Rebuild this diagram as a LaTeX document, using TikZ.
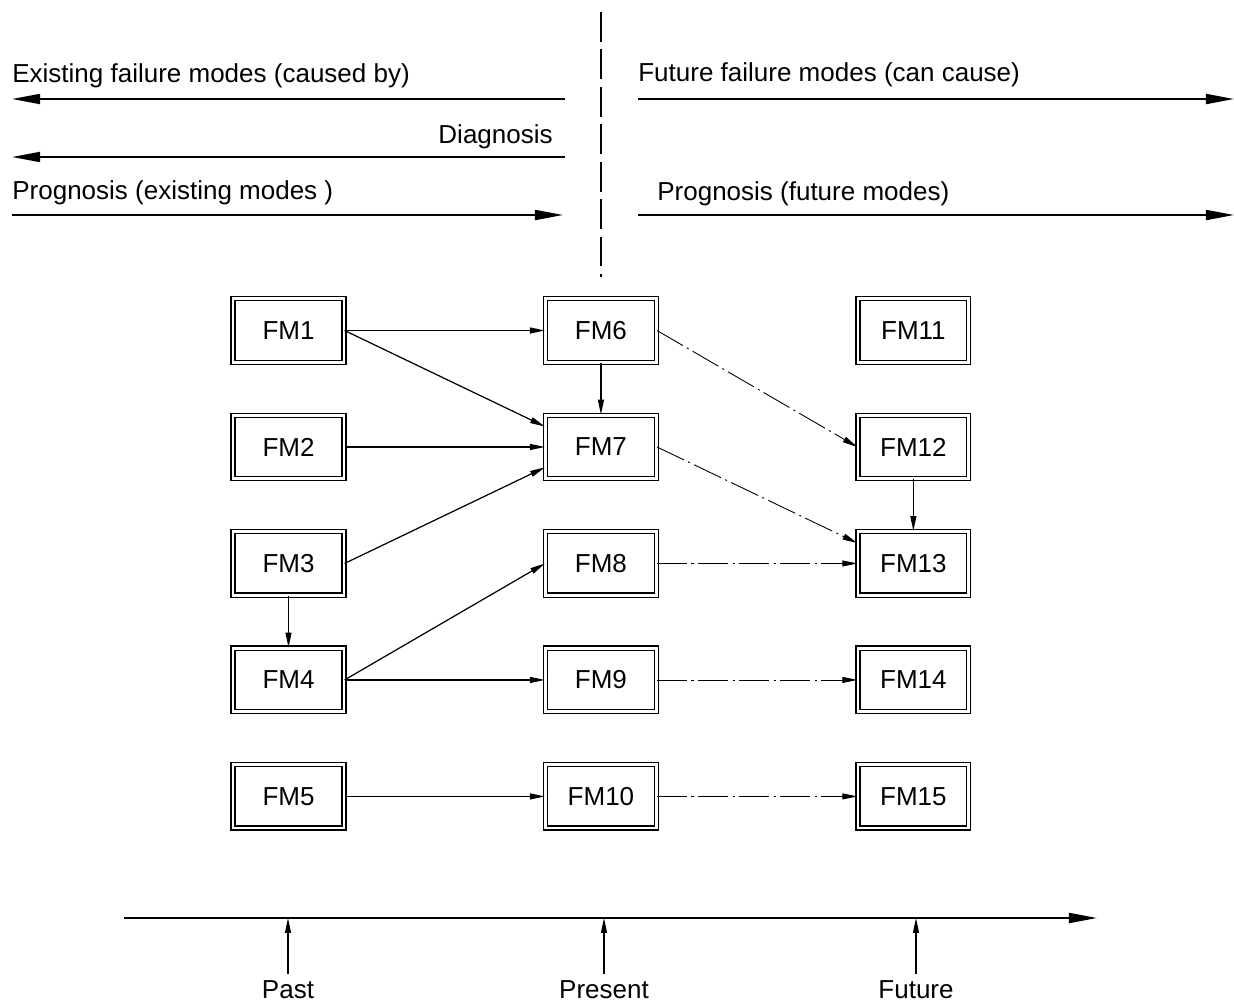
\documentclass[tikz,border=0pt]{standalone}
\usepackage{fontspec}
\setmainfont{Liberation Sans}
\usetikzlibrary{positioning,arrows.meta}

\begin{document}
\begin{tikzpicture}
    [ x=0.02cm, y=-0.02cm
    , every node/.style={font=\fontsize{14.8}{17}\selectfont}
    , on grid
    , node distance=2.33cm and 6.25cm
    , heading/.style={inner sep=0pt}
    , fm/.style={draw, double, line width=0.8pt, double distance=1.5pt,
        minimum width=2.215cm, minimum height=1.27cm, inner sep=0pt}
    , cause/.style={-{Triangle[length=8.5pt,width=3.4pt]}, line width=0.7pt}
    , future/.style={cause, line width=0.5pt,
        dash pattern=on 17pt off 2.6pt on 1.2pt off 2.6pt}
    , span/.style={-{Triangle[length=16pt,width=5.7pt]}, line width=1.1pt}
    , now/.style={line width=1.1pt, dash pattern=on 17pt off 4.3pt}
    , tick/.style={-{Triangle[length=8.5pt,width=3.4pt]}, line width=0.7pt}
    ]
  \useasboundingbox (0,0) rectangle (1234,1001);

  \node[heading, anchor=base west] (existing) at (12,82) {Existing failure modes (caused by)};
  \node[heading, anchor=base east] (diagnosis) at (553,143) {Diagnosis};
  \node[heading, anchor=base west] (progpast) at (12,199) {Prognosis (existing modes )};
  \node[heading, anchor=base west] (futmodes) at (638,81) {Future failure modes (can cause)};
  \node[heading, anchor=base west] (progfut) at (657,200) {Prognosis (future modes)};

  \coordinate (exR) at (565,99);
  \coordinate (exL) at (12,99);
  \coordinate (diR) at (565,157);
  \coordinate (diL) at (12,157);
  \coordinate (ppL) at (12,215);
  \coordinate (ppR) at (563,215);
  \coordinate (fuL) at (638,99);
  \coordinate (fuR) at (1234,99);
  \coordinate (pfL) at (638,215);
  \coordinate (pfR) at (1234,215);
  \coordinate (nowT) at (601,12);
  \coordinate (nowB) at (601,277);

  \draw[span] (exR) -- (exL);
  \draw[span] (diR) -- (diL);
  \draw[span] (ppL) -- (ppR);
  \draw[span] (fuL) -- (fuR);
  \draw[span] (pfL) -- (pfR);
  \draw[now] (nowT) -- (nowB);

  \node[fm] (fm1) at (288.5,330.5) {FM1};
  \node[fm, below=of fm1] (fm2) {FM2};
  \node[fm, below=of fm2] (fm3) {FM3};
  \node[fm, below=of fm3] (fm4) {FM4};
  \node[fm, below=of fm4] (fm5) {FM5};

  \node[fm, right=of fm1] (fm6) {FM6};
  \node[fm, right=of fm2] (fm7) {FM7};
  \node[fm, right=of fm3] (fm8) {FM8};
  \node[fm, right=of fm4] (fm9) {FM9};
  \node[fm, right=of fm5] (fm10) {FM10};

  \node[fm, right=of fm6] (fm11) {FM11};
  \node[fm, right=of fm7] (fm12) {FM12};
  \node[fm, right=of fm8] (fm13) {FM13};
  \node[fm, right=of fm9] (fm14) {FM14};
  \node[fm, right=of fm10] (fm15) {FM15};

  \draw[cause] (fm1.east) -- (fm6.west);
  \draw[cause] (fm1.east) -- (fm7.160);
  \draw[cause] (fm2.east) -- (fm7.west);
  \draw[cause] (fm3.east) -- (fm7.200);
  \draw[cause] (fm3.south) -- (fm4.north);
  \draw[cause] (fm4.east) -- (fm8.west);
  \draw[cause] (fm4.east) -- (fm9.west);
  \draw[cause] (fm5.east) -- (fm10.west);
  \draw[cause] (fm6.south) -- (fm7.north);
  \draw[cause] (fm12.south) -- (fm13.north);

  \draw[future] (fm6.east) -- (fm12.west);
  \draw[future] (fm7.east) -- (fm13.160);
  \draw[future] (fm8.east) -- (fm13.west);
  \draw[future] (fm9.east) -- (fm14.west);
  \draw[future] (fm10.east) -- (fm15.west);

  \coordinate (axL) at (124,918);
  \coordinate (axR) at (1097,918);
  \draw[span, line width=1.2pt] (axL) -- (axR);

  \node[anchor=base] (past) at (288,998) {Past};
  \node[anchor=base] (present) at (604,998) {Present};
  \node[anchor=base] (futlabel) at (916,998) {Future};

  \draw[tick] (past.north) -- (past.north |- axL);
  \draw[tick] (present.north) -- (present.north |- axL);
  \draw[tick] (futlabel.north) -- (futlabel.north |- axL);
\end{tikzpicture}
\end{document}
